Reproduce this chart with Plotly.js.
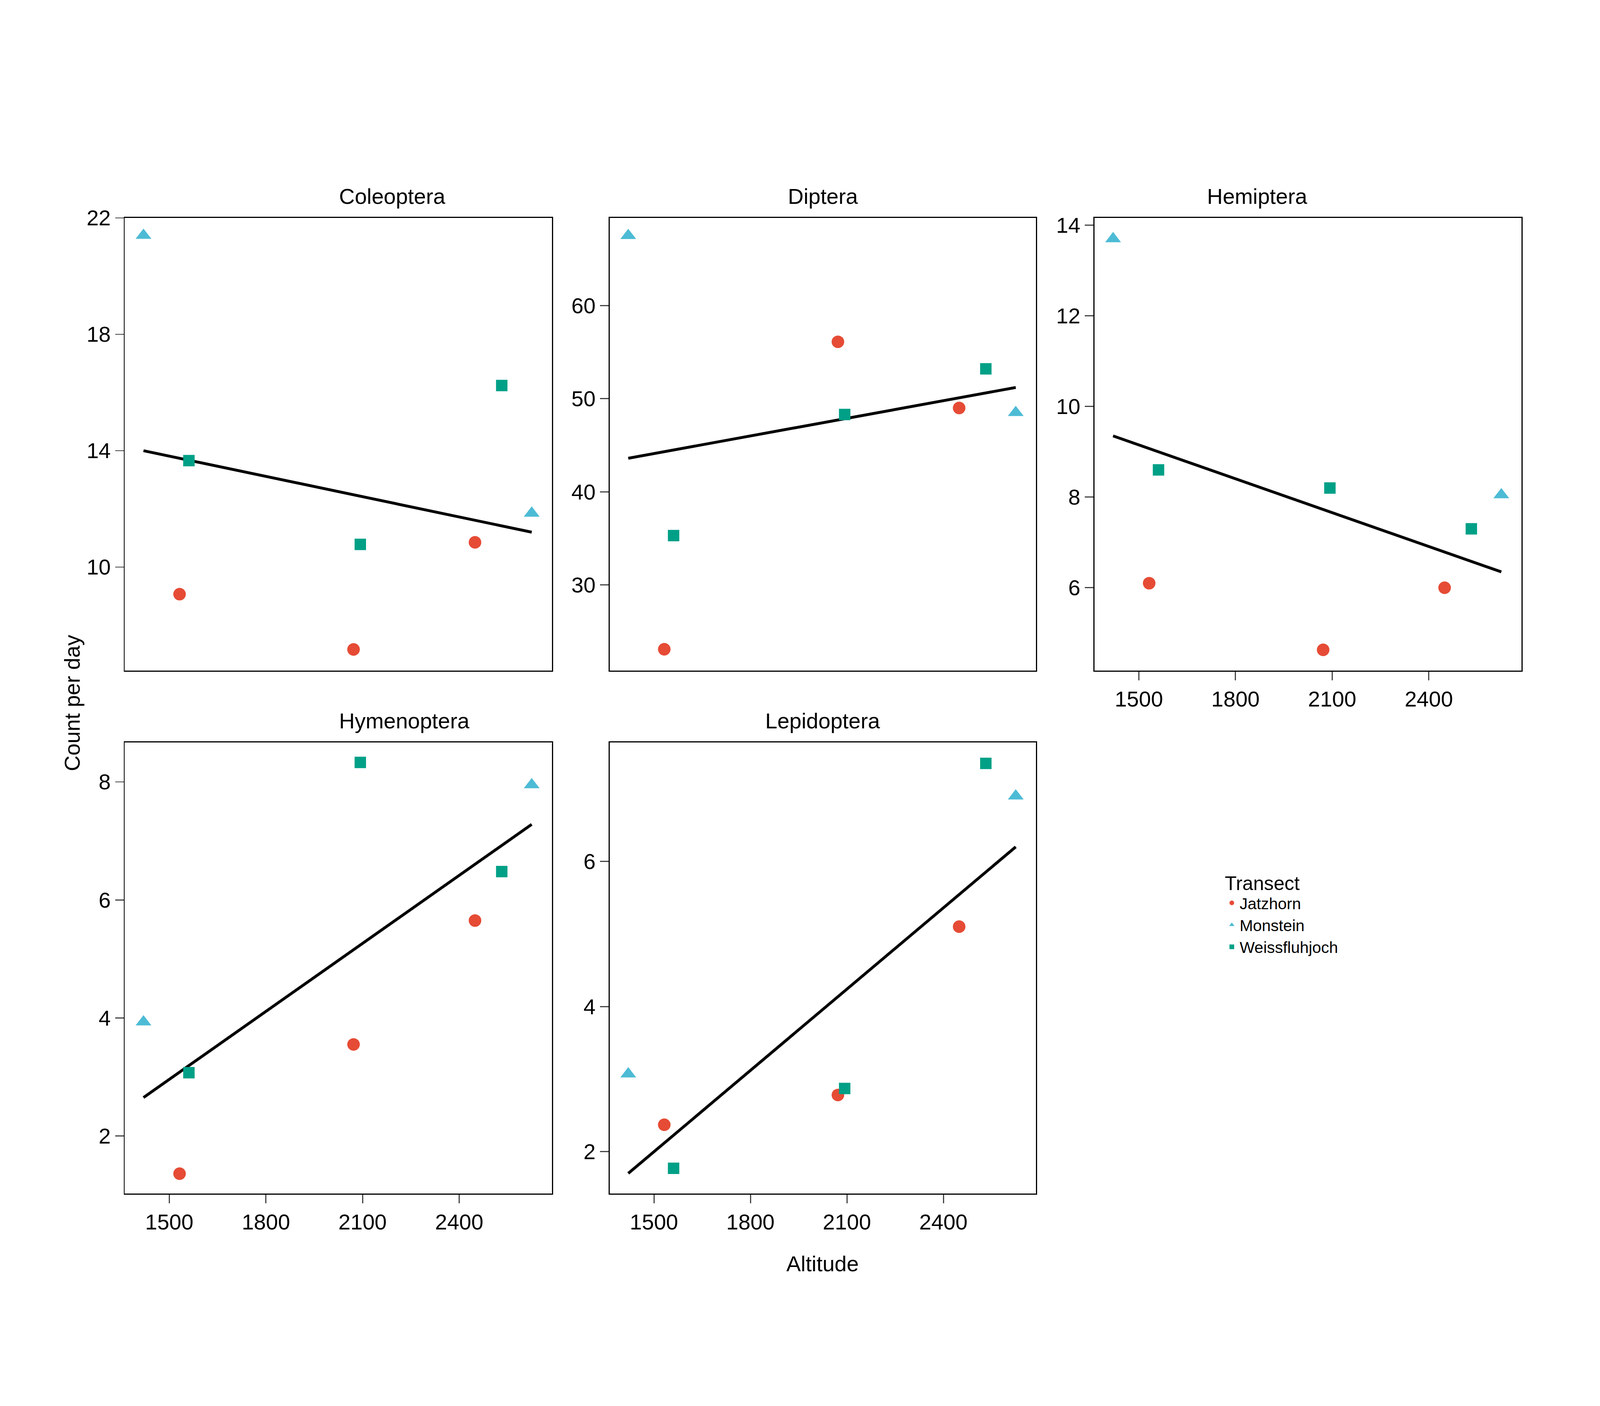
<!DOCTYPE html>
<html>
<head>
<meta charset="utf-8">
<script src="https://cdn.plot.ly/plotly-3.0.1.min.js"></script>
<style>html,body{margin:0;padding:0;background:#fff;overflow:hidden}#plot{width:100vw;height:100vh}</style>
</head>
<body>
<div id="plot"></div>
<script>
// Altitudes of the sites per transect
const altJatzhorn = [1532, 2072, 2449];
const altMonstein = [1420, 2625];
const altWeiss = [1561, 2093, 2532];

const orders = ['Coleoptera', 'Diptera', 'Hemiptera', 'Hymenoptera', 'Lepidoptera'];

// counts per day, per order
const jatzhorn = {
  Coleoptera: [9.07, 7.17, 10.85],
  Diptera: [23.1, 56.1, 49.0],
  Hemiptera: [6.1, 4.63, 6.0],
  Hymenoptera: [1.36, 3.55, 5.65],
  Lepidoptera: [2.37, 2.78, 5.1]
};
const monstein = {
  Coleoptera: [21.4, 11.85],
  Diptera: [67.5, 48.5],
  Hemiptera: [13.7, 8.05],
  Hymenoptera: [3.93, 7.95],
  Lepidoptera: [3.07, 6.9]
};
const weiss = {
  Coleoptera: [13.66, 10.78, 16.24],
  Diptera: [35.3, 48.3, 53.2],
  Hemiptera: [8.6, 8.2, 7.3],
  Hymenoptera: [3.07, 8.33, 6.48],
  Lepidoptera: [1.77, 2.87, 7.35]
};
// fitted line ends at 1420 and 2625
const fitX = [1420, 2625];
const fitY = {
  Coleoptera: [14.0, 11.2],
  Diptera: [43.6, 51.2],
  Hemiptera: [9.35, 6.35],
  Hymenoptera: [2.65, 7.28],
  Lepidoptera: [1.7, 6.2]
};
const yRanges = {
  Coleoptera: [6.44, 22], Diptera: [20.8, 69.4], Hemiptera: [4.17, 14.16],
  Hymenoptera: [1.02, 8.67], Lepidoptera: [1.42, 7.64]
};
const yTicks = {
  Coleoptera: [10, 14, 18, 22], Diptera: [30, 40, 50, 60], Hemiptera: [6, 8, 10, 12, 14],
  Hymenoptera: [2, 4, 6, 8], Lepidoptera: [2, 4, 6]
};
const xTicks = [1500, 1800, 2100, 2400];

const colJ = '#E64B35', colM = '#4DBBD5', colW = '#00A087';
const xDom = [[0.078, 0.345], [0.381, 0.6475], [0.684, 0.951]];
const yDom = [[0.523, 0.845], [0.151, 0.472]];
const font = 'Liberation Sans, Arial, sans-serif';

// scale everything to the actual viewport
const W = window.innerWidth, H = window.innerHeight;
const k = W / 5600;

const data = [];
const layout = {
  width: W, height: H, showlegend: true,
  paper_bgcolor: 'white', plot_bgcolor: 'white',
  margin: {l: 0, r: 0, t: 0, b: 0},
  font: {family: font, size: 76 * k, color: 'black'},
  legend: {
    x: 0.765, y: 0.385, xanchor: 'left', yanchor: 'top',
    title: {text: 'Transect', font: {size: 68 * k}},
    font: {size: 56 * k}, itemsizing: 'constant', tracegroupgap: 0
  },
  annotations: [
    {text: 'Count per day', x: 0.037, y: 0.5, xref: 'paper', yref: 'paper', textangle: -90,
      showarrow: false, font: {size: 76 * k}},
    {text: 'Altitude', x: 0.514, y: 0.092, xref: 'paper', yref: 'paper',
      showarrow: false, font: {size: 76 * k}}
  ]
};

orders.forEach((o, i) => {
  const n = i + 1;
  const xa = 'x' + (n === 1 ? '' : n), ya = 'y' + (n === 1 ? '' : n);
  const row = i < 3 ? 0 : 1, col = i % 3;
  const showX = row === 1 || i === 2;
  const first = i === 0;
  data.push({x: fitX, y: fitY[o], xaxis: xa, yaxis: ya, mode: 'lines',
    line: {color: 'black', width: 10 * k}, showlegend: false, hoverinfo: 'skip'});
  data.push({x: altJatzhorn, y: jatzhorn[o], xaxis: xa, yaxis: ya, mode: 'markers', name: 'Jatzhorn',
    legendgroup: 'J', showlegend: first, marker: {color: colJ, size: 44 * k, symbol: 'circle'}});
  data.push({x: altMonstein, y: monstein[o], xaxis: xa, yaxis: ya, mode: 'markers', name: 'Monstein',
    legendgroup: 'M', showlegend: first, marker: {color: colM, size: 48 * k, symbol: 'triangle-up'}});
  data.push({x: altWeiss, y: weiss[o], xaxis: xa, yaxis: ya, mode: 'markers', name: 'Weissfluhjoch',
    legendgroup: 'W', showlegend: first, marker: {color: colW, size: 40 * k, symbol: 'square'}});
  const ax = {showline: true, mirror: true, linecolor: 'black', linewidth: 4 * k,
    showgrid: false, zeroline: false, ticks: 'outside', ticklen: 30 * k, tickwidth: 4 * k,
    tickfont: {size: 76 * k}};
  layout['xaxis' + (n === 1 ? '' : n)] = Object.assign({}, ax, {
    domain: xDom[col], anchor: ya, range: [1362, 2688], tickvals: xTicks,
    showticklabels: showX, ticks: showX ? 'outside' : ''
  });
  layout['yaxis' + (n === 1 ? '' : n)] = Object.assign({}, ax, {
    domain: yDom[row], anchor: xa, range: yRanges[o], tickvals: yTicks[o]
  });
  layout.annotations.push({text: o, xref: 'paper', yref: 'paper',
    x: (xDom[col][0] + xDom[col][1]) / 2, y: yDom[row][1] + 0.006, yanchor: 'bottom',
    showarrow: false, font: {size: 76 * k}});
});

Plotly.newPlot('plot', data, layout, {staticPlot: true});
</script>
</body>
</html>
